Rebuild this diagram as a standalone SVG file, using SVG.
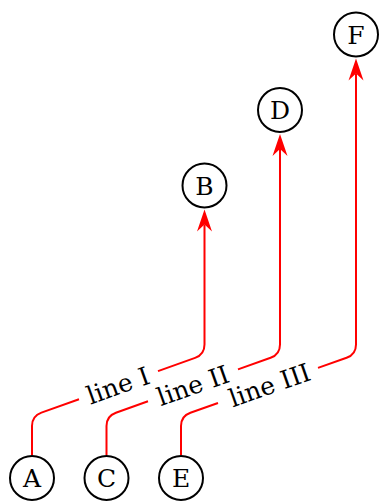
<svg xmlns="http://www.w3.org/2000/svg" width="379" height="501" viewBox="0 0 379 501">
<style>
.node circle{fill:#fff;stroke:#000;stroke-width:2}
.node text{font-family:"DejaVu Serif",serif;font-size:25px;fill:#000;text-anchor:middle}
.edge{fill:none;stroke:#f00;stroke-width:2;marker-end:url(#arr)}
.lbl{font-family:"DejaVu Serif",serif;font-size:25px;fill:#000;text-anchor:middle}
</style>
<defs>
<marker id="arr" markerUnits="userSpaceOnUse" markerWidth="30" markerHeight="20" viewBox="-10 -10 30 20" refX="0" refY="0" orient="auto" overflow="visible">
<path d="M15,0 L-7,-7.5 L0,0 L-7,7.5 Z" fill="#f00" stroke="none"/>
</marker>
</defs>
<rect width="379" height="501" fill="#fff"/>
<g id="connectors">
<path class="edge" d="M32 455 V426 Q32 416 41.4 412.6 L79 399.2 M158 371.1 L195.1 357.9 Q204.5 354.5 204.5 344.5 V224.5"/>
<path class="edge" d="M106.5 455 V426 Q106.5 416 115.9 412.7 L148 401.3 M238 369.4 L270.6 357.8 Q280 354.5 280 344.5 V149"/>
<path class="edge" d="M181 455 V426 Q181 416 190.4 412.7 L218 403 M318 367.9 L346.6 357.8 Q356 354.5 356 344.5 V73.5"/>
<text class="lbl" transform="translate(118 385.3) rotate(-19.6)" y="9">line I</text>
<text class="lbl" transform="translate(193 385.3) rotate(-19.5)" y="9">line II</text>
<text class="lbl" transform="translate(269.5 384.9) rotate(-19.4)" y="9">line III</text>
</g>
<g id="A" class="node"><circle cx="32" cy="478" r="22"/><text x="32" y="487">A</text></g>
<g id="C" class="node"><circle cx="106.5" cy="478" r="22"/><text x="106.5" y="487">C</text></g>
<g id="E" class="node"><circle cx="181" cy="478" r="22"/><text x="181" y="487">E</text></g>
<g id="B" class="node"><circle cx="204.5" cy="185.5" r="22"/><text x="204.5" y="194.5">B</text></g>
<g id="D" class="node"><circle cx="280" cy="110" r="22"/><text x="280" y="119">D</text></g>
<g id="F" class="node"><circle cx="356" cy="34.5" r="22"/><text x="356" y="43.5">F</text></g>
</svg>
